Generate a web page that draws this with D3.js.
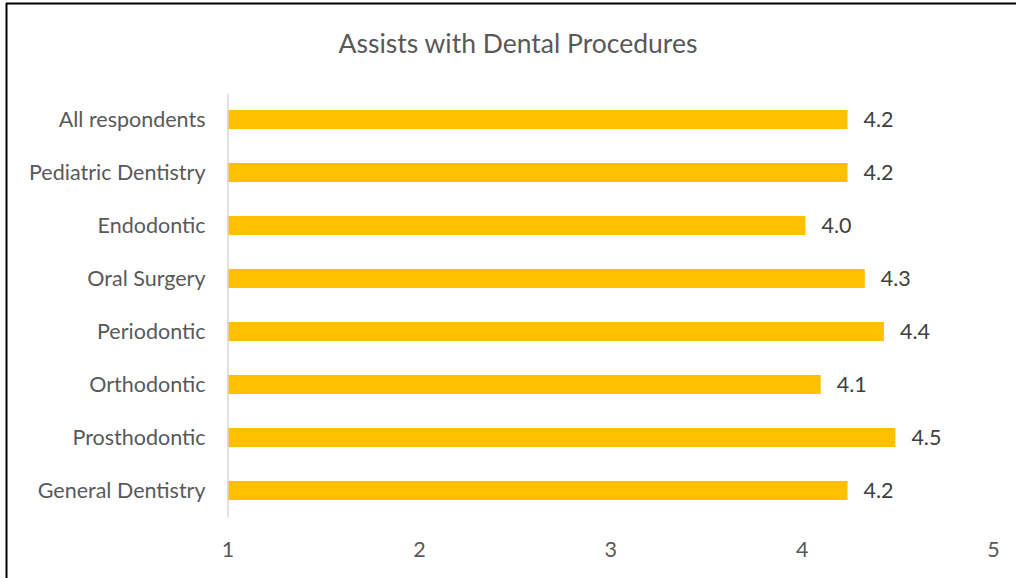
<!DOCTYPE html>
<html>
<head>
<meta charset="utf-8">
<script src="https://cdn.jsdelivr.net/npm/d3@7"></script>
<style>
html,body{margin:0;padding:0;background:#fff;}
svg{display:block;}
</style>
</head>
<body>
<script>
const categories = ["All respondents","Pediatric Dentistry","Endodontic","Oral Surgery","Periodontic","Orthodontic","Prosthodontic","General Dentistry"];
const values = [4.24,4.24,4.02,4.33,4.43,4.10,4.49,4.24];
const tickValues = [1,2,3,4,5];
const title = "Assists with Dental Procedures";

const W = 1016, H = 578;
const font = "Lato, 'Open Sans', sans-serif";
const svg = d3.select("body").append("svg").attr("width", W).attr("height", H);

// frame (top and left border)
svg.append("line").attr("x1",6).attr("x2",W).attr("y1",3.5).attr("y2",3.5).attr("stroke","#000").attr("stroke-width",2);
svg.append("line").attr("x1",6.5).attr("x2",6.5).attr("y1",3).attr("y2",H).attr("stroke","#000").attr("stroke-width",2);

const x = d3.scaleLinear().domain([1,5]).range([227.5,993]);
const y = d3.scaleBand().domain(categories).range([93,517]).paddingInner(0.64).paddingOuter(0.32);

svg.append("text").attr("x",518).attr("y",53).attr("text-anchor","middle")
  .attr("font-family",font).attr("font-size",26.5).attr("fill","#595959").text(title);

// bars
svg.append("g").selectAll("rect").data(categories).join("rect")
  .attr("x", x(1)).attr("y", d=>y(d))
  .attr("width", (d,i)=>x(values[i])-x(1)).attr("height", y.bandwidth())
  .attr("fill","#FFC000");

// value labels
svg.append("g").selectAll("text").data(categories).join("text")
  .attr("x",(d,i)=>x(values[i])+16).attr("y",d=>y(d)+y.bandwidth()/2)
  .attr("dy","0.36em").attr("font-family",font).attr("font-size",21.5).attr("fill","#404040")
  .text((d,i)=>d3.format(".1f")(values[i]));

// y axis
const yAxis = svg.append("g").attr("transform",`translate(${x(1)},0)`)
  .call(d3.axisLeft(y).tickSize(0).tickPadding(22));
yAxis.select(".domain").attr("stroke","#d9d9d9").attr("stroke-width",1.5);
yAxis.selectAll("text").attr("font-family",font).attr("font-size",21.5).attr("fill","#595959").attr("dy","0.36em");

// x axis (labels only)
const xAxis = svg.append("g").attr("transform","translate(0,557)")
  .call(d3.axisBottom(x).tickValues(tickValues).tickFormat(d3.format("d")).tickSize(0).tickPadding(0));
xAxis.select(".domain").remove();
xAxis.selectAll("text").attr("font-family",font).attr("font-size",21.5).attr("fill","#595959").attr("dy",0);
</script>
</body>
</html>
